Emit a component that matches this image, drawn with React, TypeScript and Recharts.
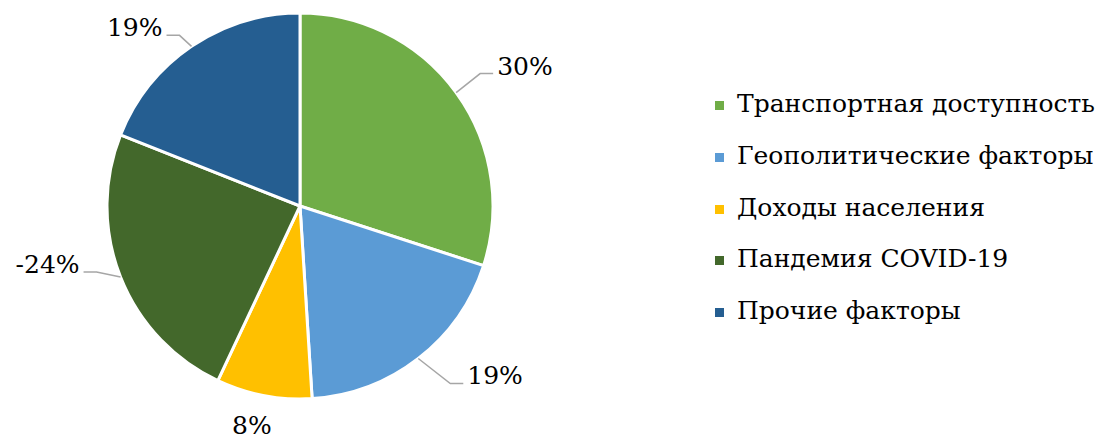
import React from 'react';
import { PieChart, Pie, Cell } from 'recharts';

// факторы и их вклад, %
const factors = [
  'Транспортная доступность',
  'Геополитические факторы',
  'Доходы населения',
  'Пандемия COVID-19',
  'Прочие факторы',
];
const effects = [30, 19, 8, -24, 19];

const colors = ['#70AD47', '#5B9BD5', '#FFC000', '#43682B', '#255E91'];

// смещения изломов выносных линий (от края сектора)
const elbows: ([number, number] | null)[] = [[24, -19], [32, 25], null, [-24, -5], [-12, -11]];

const data = factors.map((name, i) => ({ name, value: Math.abs(effects[i]), effect: effects[i] }));

const FONT = '"DejaVu Serif", serif';
const RAD = Math.PI / 180;

const renderLabel = (props: any) => {
  const { cx, cy, midAngle, outerRadius, index } = props;
  const ex = cx + outerRadius * Math.cos(-midAngle * RAD);
  const ey = cy + outerRadius * Math.sin(-midAngle * RAD);
  const text = `${effects[index]}%`;
  const el = elbows[index];
  if (!el) {
    return (
      <text x={ex - 12} y={ey + 38} textAnchor="middle" fontFamily={FONT} fontSize={25} fill="#000">
        {text}
      </text>
    );
  }
  const bx = ex + el[0];
  const by = ey + el[1];
  const right = el[0] > 0;
  const hx = right ? bx + 13 : bx - 13;
  const tx = right ? hx + 4 : hx - 4;
  return (
    <g>
      <polyline points={`${ex},${ey} ${bx},${by} ${hx},${by}`} fill="none" stroke="#A6A6A6" strokeWidth={1.5} />
      <text x={tx} y={by + 1} textAnchor={right ? 'start' : 'end'} fontFamily={FONT} fontSize={25} fill="#000">
        {text}
      </text>
    </g>
  );
};

export default function App() {
  return (
    <div style={{ position: 'absolute', left: 0, top: 0, width: 1106, height: 434, background: '#fff', fontFamily: FONT }}>
      <PieChart width={1106} height={434} margin={{ top: 0, right: 0, bottom: 0, left: 0 }}>
        <Pie
          data={data}
          dataKey="value"
          nameKey="name"
          cx={300}
          cy={206}
          outerRadius={193}
          startAngle={90}
          endAngle={-270}
          stroke="#fff"
          strokeWidth={3}
          label={renderLabel}
          labelLine={false}
          isAnimationActive={false}
        >
          {data.map((d, i) => (
            <Cell key={d.name} fill={colors[i]} />
          ))}
        </Pie>
      </PieChart>
      <div style={{ position: 'absolute', left: 715, top: 78, fontFamily: FONT, fontSize: 25, color: '#000' }}>
        {factors.map((f, i) => (
          <div key={f} style={{ display: 'flex', alignItems: 'center', height: 51.7, whiteSpace: 'nowrap' }}>
            <span style={{ display: 'inline-block', width: 9, height: 9, background: colors[i], marginRight: 13, marginTop: 4 }} />
            <span>{f}</span>
          </div>
        ))}
      </div>
    </div>
  );
}
